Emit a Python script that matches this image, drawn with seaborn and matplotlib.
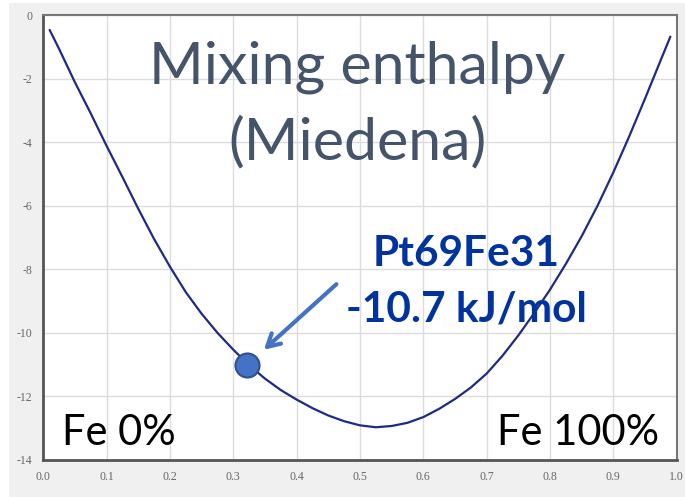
import numpy as np
import pandas as pd
import matplotlib
matplotlib.use("Agg")
import matplotlib.pyplot as plt
import seaborn as sns
from matplotlib.patches import Rectangle

# 資料：Fe 比例 vs 混合焓 (kJ/mol)
fe_frac = [0.01, 0.025, 0.05, 0.075, 0.10, 0.125, 0.15, 0.175, 0.20, 0.225, 0.25,
           0.275, 0.30, 0.325, 0.35, 0.375, 0.40, 0.425, 0.45, 0.475, 0.50,
           0.525, 0.55, 0.575, 0.60, 0.625, 0.65, 0.675, 0.70, 0.725, 0.75,
           0.775, 0.80, 0.825, 0.85, 0.875, 0.90, 0.925, 0.95, 0.975, 0.99]
enthalpy = [-0.47, -1.07, -2.12, -3.1, -4.12, -5.1, -6.1, -7.05, -7.92, -8.72, -9.4,
            -10.0, -10.53, -11.02, -11.44, -11.8, -12.1, -12.37, -12.6, -12.78, -12.91,
            -12.97, -12.93, -12.83, -12.65, -12.39, -12.08, -11.72, -11.28, -10.72, -10.08,
            -9.38, -8.64, -7.83, -6.96, -6.0, -4.95, -3.82, -2.63, -1.41, -0.68]

point_x = [0.322]
point_y = [-11.0]

x_ticks = [0.0, 0.1, 0.2, 0.3, 0.4, 0.5, 0.6, 0.7, 0.8, 0.9, 1.0]
y_ticks = [0, -2, -4, -6, -8, -10, -12, -14]

df = pd.DataFrame({"fe": fe_frac, "h": enthalpy})
pt = pd.DataFrame({"fe": point_x, "h": point_y})

sns.set_style("whitegrid")
plt.rcParams['font.family'] = ['Lato', 'DejaVu Sans']

fig = plt.figure(figsize=(6.85, 4.97), dpi=100, facecolor='white')
# 灰色背景
fig.patches.append(Rectangle((9 / 685, 0), 1, 1 - 3 / 497, transform=fig.transFigure,
                             facecolor='#f0f0f0', edgecolor='none', zorder=-10))
ax = fig.add_axes([43.3 / 685, 1 - 460 / 497, 633.4 / 685, 445 / 497])
ax.set_facecolor('white')

sns.lineplot(data=df, x="fe", y="h", ax=ax, color='#1f2a86', linewidth=1.6, zorder=3)
sns.scatterplot(data=pt, x="fe", y="h", ax=ax, s=300, color='#4472c4',
                edgecolor='#2f528f', linewidth=1.5, zorder=5)

ax.set_xlim(0, 1)
ax.set_ylim(-14, 0)
ax.set_xticks(x_ticks)
ax.set_yticks(y_ticks)
ax.set_xticklabels([f"{v:.1f}" for v in x_ticks])
ax.set_yticklabels([str(v) for v in y_ticks])
ax.set_xlabel('')
ax.set_ylabel('')
ax.grid(True, color='#dcdcdc', linewidth=1)
ax.tick_params(length=0, labelsize=8.5, labelcolor='#666666', pad=8)
for lab in ax.get_xticklabels() + ax.get_yticklabels():
    lab.set_family('Liberation Serif')

for side in ['left', 'bottom']:
    ax.spines[side].set_color('#555555')
    ax.spines[side].set_linewidth(2)
for side in ['top', 'right']:
    ax.spines[side].set_color('#777777')
    ax.spines[side].set_linewidth(1.5)

title_color = '#44546a'
ax.text(0.496, -2.15, 'Mixing enthalpy', ha='center', va='baseline', fontsize=42.5, color=title_color)
ax.text(0.496, -4.56, '(Miedena)', ha='center', va='baseline', fontsize=42.5, color=title_color)

blue = '#0033a0'
ax.text(0.668, -7.89, 'Pt69Fe31', ha='center', va='baseline', fontsize=30.5, fontweight='bold', color=blue)
ax.text(0.668, -9.64, '-10.7 kJ/mol', ha='center', va='baseline', fontsize=30.5, fontweight='bold', color=blue)

ax.annotate('', xy=(0.345, -10.59), xytext=(0.466, -8.41),
            arrowprops=dict(arrowstyle='->,head_length=0.9,head_width=0.5', color='#4472c4', lw=3),
            zorder=6)

ax.text(0.0295, -13.52, 'Fe 0%', ha='left', va='baseline', fontsize=30, color='black')
ax.text(0.973, -13.52, 'Fe 100%', ha='right', va='baseline', fontsize=30, color='black')

fig.savefig('out.png', dpi=100, facecolor=fig.get_facecolor())
